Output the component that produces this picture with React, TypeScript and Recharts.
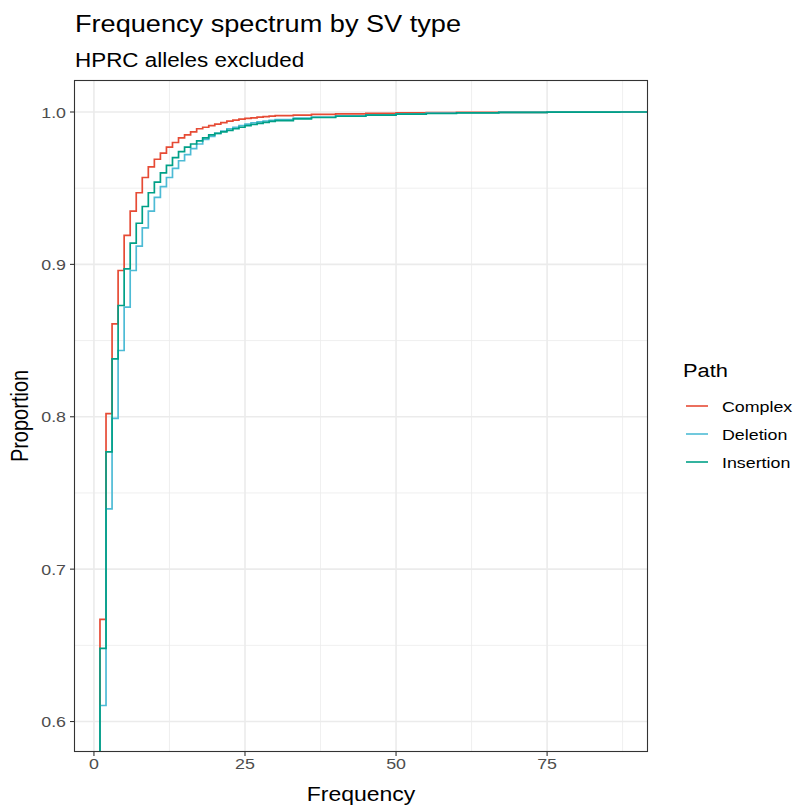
import { CartesianGrid, Line, LineChart, XAxis, YAxis } from "recharts";

// ECDF of allele frequency per SV type
const freq = [
  1, 2, 3, 4, 5, 6, 7, 8, 9, 10, 11, 12, 13, 14, 15, 16, 17, 18, 19, 20, 21, 22, 23, 24, 25, 26, 27,
  28, 29, 30, 33, 36, 40, 45, 50, 55, 60, 67, 75, 87,
];
const complex = [
  0.667, 0.802, 0.861, 0.896, 0.919, 0.935, 0.947, 0.957, 0.964, 0.969, 0.973, 0.977, 0.98, 0.983,
  0.985, 0.987, 0.989, 0.99, 0.991, 0.992, 0.993, 0.994, 0.9947, 0.9953, 0.9958, 0.9962, 0.9966,
  0.997, 0.9973, 0.9976, 0.998, 0.9984, 0.9988, 0.9991, 0.9994, 0.9996, 0.9997, 0.9998, 0.9999, 1,
];
const deletion = [
  0.6105, 0.7395, 0.799, 0.8435, 0.872, 0.896, 0.912, 0.924, 0.935, 0.944, 0.951, 0.957, 0.963,
  0.968, 0.972, 0.976, 0.979, 0.982, 0.984, 0.986, 0.9875, 0.989, 0.99, 0.991, 0.992, 0.9928,
  0.9935, 0.9941, 0.9946, 0.995, 0.996, 0.9967, 0.9975, 0.9982, 0.9988, 0.9992, 0.9995, 0.9997,
  0.9999, 1,
];
const insertion = [
  0.648, 0.777, 0.838, 0.873, 0.897, 0.914, 0.927, 0.938, 0.947, 0.954, 0.96, 0.965, 0.97, 0.974,
  0.977, 0.979, 0.981, 0.983, 0.985, 0.986, 0.987, 0.988, 0.989, 0.99, 0.991, 0.9918, 0.9925,
  0.9932, 0.9938, 0.9943, 0.9955, 0.9964, 0.9972, 0.998, 0.9986, 0.999, 0.9994, 0.9997, 0.9999, 1,
];

const xTicks = [0, 25, 50, 75];
const xMinor = [12.5, 37.5, 62.5, 87.5];
const yTicks = [0.6, 0.7, 0.8, 0.9, 1.0];
const yMinor = [0.65, 0.75, 0.85, 0.95];

const series = [
  { key: "c", name: "Complex", color: "#E64B35" },
  { key: "d", name: "Deletion", color: "#4DBBD5" },
  { key: "i", name: "Insertion", color: "#00A087" },
];

// ggplot-style expanded limits
const X_LO = -3.3;
const X_HI = 91.7;
const Y_LO = 0.58;
const Y_HI = 1.021;

const FONT = "'Liberation Sans', Arial, sans-serif";
const SX = 1.15; // the reference is stretched horizontally

// ecdf is padded at both ends, like stat_ecdf(pad = TRUE)
const rows = [
  { f: X_LO, c: 0, d: 0, i: 0 },
  ...freq.map((f, k) => ({ f, c: complex[k], d: deletion[k], i: insertion[k] })),
  { f: X_HI, c: 1, d: 1, i: 1 },
];

function XTick(p: any) {
  return (
    <text
      transform={`translate(${p.x},${p.y + 13}) scale(${SX},1)`}
      textAnchor="middle"
      fontSize={15.5}
      fill="#4D4D4D"
      fontFamily={FONT}
    >
      {p.payload.value}
    </text>
  );
}

function YTick(p: any) {
  return (
    <text
      transform={`translate(${p.x},${p.y + 5.5}) scale(${SX},1)`}
      textAnchor="end"
      fontSize={15.5}
      fill="#4D4D4D"
      fontFamily={FONT}
    >
      {Number(p.payload.value).toFixed(1)}
    </text>
  );
}

function st(x: number, y: number) {
  return `translate(${x},${y}) scale(${SX},1)`;
}

export default function App() {
  return (
    <div
      style={{
        position: "absolute",
        left: 0,
        top: 0,
        width: 794,
        height: 805,
        background: "#fff",
      }}
    >
      <LineChart
        width={794}
        height={805}
        data={rows}
        margin={{ top: 80, right: 146, bottom: 23, left: 14 }}
      >
        <CartesianGrid
          stroke="#EBEBEB"
          strokeWidth={0.8}
          verticalValues={xMinor}
          horizontalValues={yMinor}
        />
        <CartesianGrid
          stroke="#EBEBEB"
          strokeWidth={1.6}
          verticalValues={xTicks}
          horizontalValues={yTicks}
        />
        <XAxis
          type="number"
          dataKey="f"
          domain={[X_LO, X_HI]}
          allowDataOverflow
          ticks={xTicks}
          height={30}
          tickSize={4}
          tickMargin={0}
          axisLine={false}
          tickLine={{ stroke: "#333333", strokeWidth: 1.1 }}
          tick={<XTick />}
        />
        <YAxis
          type="number"
          domain={[Y_LO, Y_HI]}
          allowDataOverflow
          ticks={yTicks}
          width={60}
          tickSize={4}
          tickMargin={4}
          axisLine={false}
          tickLine={{ stroke: "#333333", strokeWidth: 1.1 }}
          tick={<YTick />}
        />
        {series.map((s) => (
          <Line
            key={s.key}
            dataKey={s.key}
            name={s.name}
            type="stepAfter"
            stroke={s.color}
            strokeWidth={1.7}
            dot={false}
            activeDot={false}
            isAnimationActive={false}
          />
        ))}
      </LineChart>

      <svg
        width={794}
        height={805}
        style={{ position: "absolute", left: 0, top: 0, pointerEvents: "none" }}
        fontFamily={FONT}
      >
        <rect x={74.5} y={80.5} width={573} height={671} fill="none" stroke="#333333" strokeWidth={1.1} />
        <text transform={st(75, 32)} fontSize={23.6} fill="#000">
          Frequency spectrum by SV type
        </text>
        <text transform={st(75, 67)} fontSize={19.5} fill="#000">
          HPRC alleles excluded
        </text>
        <text transform={st(361, 801)} textAnchor="middle" fontSize={20} fill="#000">
          Frequency
        </text>
        <text
          transform={`translate(28,416) scale(${SX},1) rotate(-90)`}
          textAnchor="middle"
          fontSize={20}
          fill="#000"
        >
          Proportion
        </text>
        <text transform={st(683, 377)} fontSize={19} fill="#000">
          Path
        </text>
        {series.map((s, k) => (
          <g key={s.key}>
            <line x1={686} x2={708} y1={406 + k * 28} y2={406 + k * 28} stroke={s.color} strokeWidth={1.6} />
            <text transform={st(722, 411.5 + k * 28)} fontSize={15.5} fill="#000">
              {s.name}
            </text>
          </g>
        ))}
      </svg>
    </div>
  );
}
